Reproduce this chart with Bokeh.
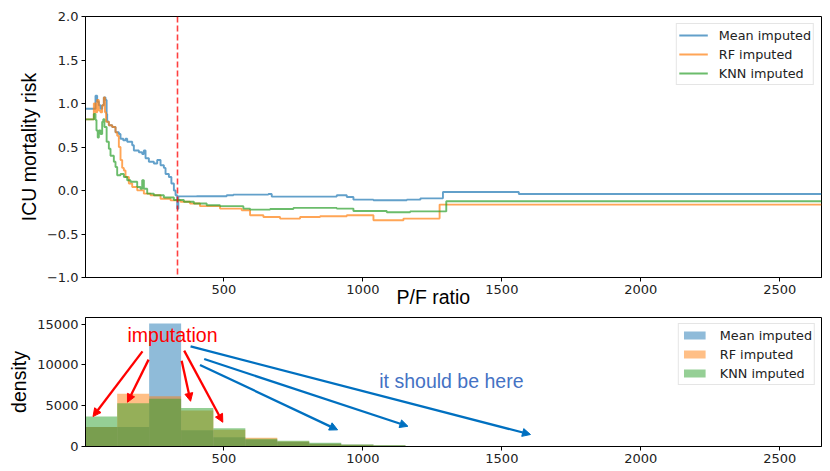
from bokeh.plotting import figure
from bokeh.models import (Range1d, FixedTicker, CustomJSTickFormatter, Span, Label, Title,
                          Legend, LegendItem, Arrow, NormalHead, ColumnDataSource)
from bokeh.layouts import column
from bokeh.embed import file_html
from bokeh.resources import INLINE

BLUE = "#1f77b4"
ORANGE = "#ff7f0e"
GREEN = "#2ca02c"

series_names = ["Mean imputed", "RF imputed", "KNN imputed"]

# ---- top panel: ICU mortality risk vs P/F ratio (step curves) ----
mean_x = [2, 38, 44, 50, 56, 62, 68, 74, 78, 80, 86, 98, 110, 122, 128, 138, 146, 152, 170, 176,
          194, 206, 212, 218, 230, 248, 260, 272, 284, 290, 302, 311, 320, 326, 332, 336, 402, 510,
          534, 660, 672, 906, 942, 966, 1038, 1158, 1207, 1288, 1561, 2650]
mean_y = [0.94, 1.09, 1.02, 0.98, 0.94, 0.98, 1.07, 1.04, 0.88, 0.79, 0.75, 0.73, 0.67, 0.65, 0.595,
          0.576, 0.595, 0.56, 0.52, 0.46, 0.44, 0.42, 0.46, 0.37, 0.33, 0.31, 0.35, 0.29, 0.26, 0.19,
          0.155, 0.08, 0.0, -0.055, -0.21, -0.067, -0.066, -0.055, -0.047, -0.040, -0.07, -0.055,
          -0.074, -0.105, -0.112, -0.105, -0.09, -0.017, -0.04, -0.04]

rf_x = [2, 32, 38, 44, 50, 56, 62, 68, 72, 76, 86, 98, 110, 116, 122, 128, 134, 140, 146, 158, 170,
        188, 212, 236, 272, 308, 344, 378, 414, 486, 564, 594, 642, 702, 774, 846, 942, 1038, 1146,
        1276, 2650]
rf_y = [0.817, 1.0, 0.9, 1.04, 0.92, 0.9, 0.98, 1.07, 0.9, 0.79, 0.75, 0.73, 0.67, 0.63, 0.5, 0.35,
        0.26, 0.23, 0.155, 0.08, 0.04, 0.002, -0.036, -0.055, -0.094, -0.113, -0.13, -0.15, -0.18,
        -0.208, -0.227, -0.285, -0.304, -0.323, -0.304, -0.296, -0.285, -0.342, -0.323, -0.162,
        -0.162]

knn_x = [2, 32, 38, 41.5, 46, 50, 56, 62, 66, 70, 78, 86, 92, 104, 110, 116, 128, 140, 152, 164,
         188, 200, 206, 212, 224, 248, 284, 320, 356, 392, 438, 486, 570, 594, 666, 750, 906, 966,
         1086, 1170, 1300, 2650]
knn_y = [0.817, 0.88, 0.81, 0.69, 0.61, 0.69, 0.65, 0.79, 0.82, 0.73, 0.56, 0.48, 0.40, 0.33, 0.27,
         0.175, 0.19, 0.155, 0.117, 0.10, 0.04, 0.02, 0.117, 0.02, -0.036, -0.055, -0.08, -0.11,
         -0.13, -0.15, -0.17, -0.18, -0.208, -0.22, -0.212, -0.20, -0.208, -0.235, -0.25, -0.24,
         -0.124, -0.124]

threshold = 333
risk_ticks = [-1.0, -0.5, 0.0, 0.5, 1.0, 1.5, 2.0]
pf_ticks = [500, 1000, 1500, 2000, 2500]

# ---- bottom panel: histogram of P/F ratio ----
bin_left = [1, 116, 231, 346, 462, 577, 692, 807, 922, 1038, 1153, 1268]
bin_right = [116, 231, 346, 462, 577, 692, 807, 922, 1038, 1153, 1268, 1383]
mean_counts = [2400, 2400, 15050, 1980, 1130, 820, 550, 330, 200, 120, 60, 30]
rf_counts = [2400, 6450, 6150, 4400, 2050, 1080, 620, 340, 220, 120, 60, 30]
knn_counts = [3680, 5300, 5850, 4730, 2250, 940, 700, 460, 250, 140, 70, 35]
density_ticks = [0, 5000, 10000, 15000]

red_arrow_x0 = [207, 229, 348, 357]
red_arrow_y0 = [11650, 10640, 10510, 11740]
red_arrow_x1 = [29, 153, 380, 496]
red_arrow_y1 = [3670, 5420, 5540, 2970]
blue_arrow_x0 = [380, 429, 414]
blue_arrow_y0 = [12260, 10720, 9990]
blue_arrow_x1 = [1603, 1162, 909]
blue_arrow_y1 = [1470, 2480, 2040]

TICK_FONT = "DejaVu Sans"
LABEL_FONT = "Liberation Sans"


def style(p):
    p.xgrid.visible = False
    p.ygrid.visible = False
    p.outline_line_color = "black"
    p.outline_line_width = 1
    for ax in (p.xaxis, p.yaxis):
        ax.axis_line_color = "black"
        ax.major_tick_line_color = "black"
        ax.minor_tick_line_color = None
        ax.major_tick_in = 0
        ax.major_tick_out = 4
        ax.major_label_text_font = TICK_FONT
        ax.major_label_text_font_size = "13px"
        ax.major_label_text_color = "#222222"
        ax.axis_label_text_font = LABEL_FONT
        ax.axis_label_text_font_size = "19.5px"
        ax.axis_label_text_font_style = "normal"
        ax.axis_label_text_color = "black"


def style_legend(leg, glyph_h, label_h, margin):
    leg.label_text_font = TICK_FONT
    leg.label_text_font_size = "12.8px"
    leg.label_text_color = "#222222"
    leg.glyph_height = glyph_h
    leg.label_height = label_h
    leg.spacing = 1
    leg.padding = 2
    leg.margin = margin
    leg.border_line_color = "#cccccc"
    leg.background_fill_alpha = 0.8


x_range = Range1d(2, 2650)

p1 = figure(width=830, height=310, x_range=x_range, y_range=Range1d(-1, 2),
            output_backend="svg", toolbar_location=None,
            min_border_left=85, min_border_right=9, min_border_top=16, min_border_bottom=33)
style(p1)
p1.xaxis.ticker = FixedTicker(ticks=pf_ticks)
p1.yaxis.ticker = FixedTicker(ticks=risk_ticks)
p1.yaxis.formatter = CustomJSTickFormatter(code="return tick.toFixed(1).replace('-', '\\u2212');")
p1.xaxis.major_label_standoff = 3
p1.yaxis.major_label_standoff = 3
p1.yaxis.axis_label = "ICU mortality risk"
p1.yaxis.axis_label_standoff = 4

lines = []
for xs, ys, c in ((mean_x, mean_y, BLUE), (rf_x, rf_y, ORANGE), (knn_x, knn_y, GREEN)):
    r = p1.step(xs, ys, mode="after", line_color=c, line_alpha=0.7, line_width=1.9)
    lines.append(r)

p1.add_layout(Span(location=threshold, dimension="height", line_color="red",
                   line_alpha=0.75, line_dash="6 3", line_width=1.6))

leg1 = Legend(items=[LegendItem(label=n, renderers=[r]) for n, r in zip(series_names, lines)],
              location="top_right")
style_legend(leg1, 18, 18, 7)
leg1.glyph_width = 29
leg1.label_standoff = 11
p1.add_layout(leg1)

xlabel = Title(text="P/F ratio", align="left", offset=311, vertical_align="top",
               standoff=-22, text_font=LABEL_FONT, text_font_size="19.5px",
               text_font_style="normal", text_color="black")
p1.add_layout(xlabel, "below")

p2 = figure(width=830, height=161, x_range=x_range, y_range=Range1d(0, 15800),
            output_backend="svg", toolbar_location=None,
            min_border_left=85, min_border_right=9, min_border_top=7, min_border_bottom=25)
style(p2)
p2.xaxis.ticker = FixedTicker(ticks=pf_ticks)
p2.yaxis.ticker = FixedTicker(ticks=density_ticks)
p2.xaxis.major_label_standoff = 3
p2.yaxis.major_label_standoff = 3
p2.yaxis.axis_label = "density"
p2.yaxis.axis_label_standoff = 4

bars = []
for counts, c in ((mean_counts, BLUE), (rf_counts, ORANGE), (knn_counts, GREEN)):
    r = p2.quad(left=bin_left, right=bin_right, bottom=0, top=counts,
                fill_color=c, fill_alpha=0.5, line_color=None)
    bars.append(r)

red_src = ColumnDataSource(dict(x0=red_arrow_x0, y0=red_arrow_y0, x1=red_arrow_x1, y1=red_arrow_y1))
blue_src = ColumnDataSource(dict(x0=blue_arrow_x0, y0=blue_arrow_y0, x1=blue_arrow_x1, y1=blue_arrow_y1))
p2.add_layout(Arrow(end=NormalHead(size=8, fill_color="red", line_color="red"),
                    x_start="x0", y_start="y0", x_end="x1", y_end="y1", source=red_src,
                    line_color="red", line_width=2.3))
p2.add_layout(Arrow(end=NormalHead(size=8, fill_color="#0070c0", line_color="#0070c0"),
                    x_start="x0", y_start="y0", x_end="x1", y_end="y1", source=blue_src,
                    line_color="#0070c0", line_width=2.3))

p2.add_layout(Label(x=315, y=13690, text="imputation", text_font=LABEL_FONT,
                    text_font_size="19.5px", text_color="red",
                    text_align="center", text_baseline="middle"))
p2.add_layout(Label(x=1059, y=8070, text="it should be here", text_font=LABEL_FONT,
                    text_font_size="19.5px", text_color="#4472c4",
                    text_align="left", text_baseline="middle"))

leg2 = Legend(items=[LegendItem(label=n, renderers=[r]) for n, r in zip(series_names, bars)],
              location="top_right")
style_legend(leg2, 10, 18, 6)
leg2.glyph_width = 27
leg2.label_standoff = 12
p2.add_layout(leg2)

layout = column(p1, p2, spacing=0)
open("out.html", "w").write(file_html(layout, INLINE))
